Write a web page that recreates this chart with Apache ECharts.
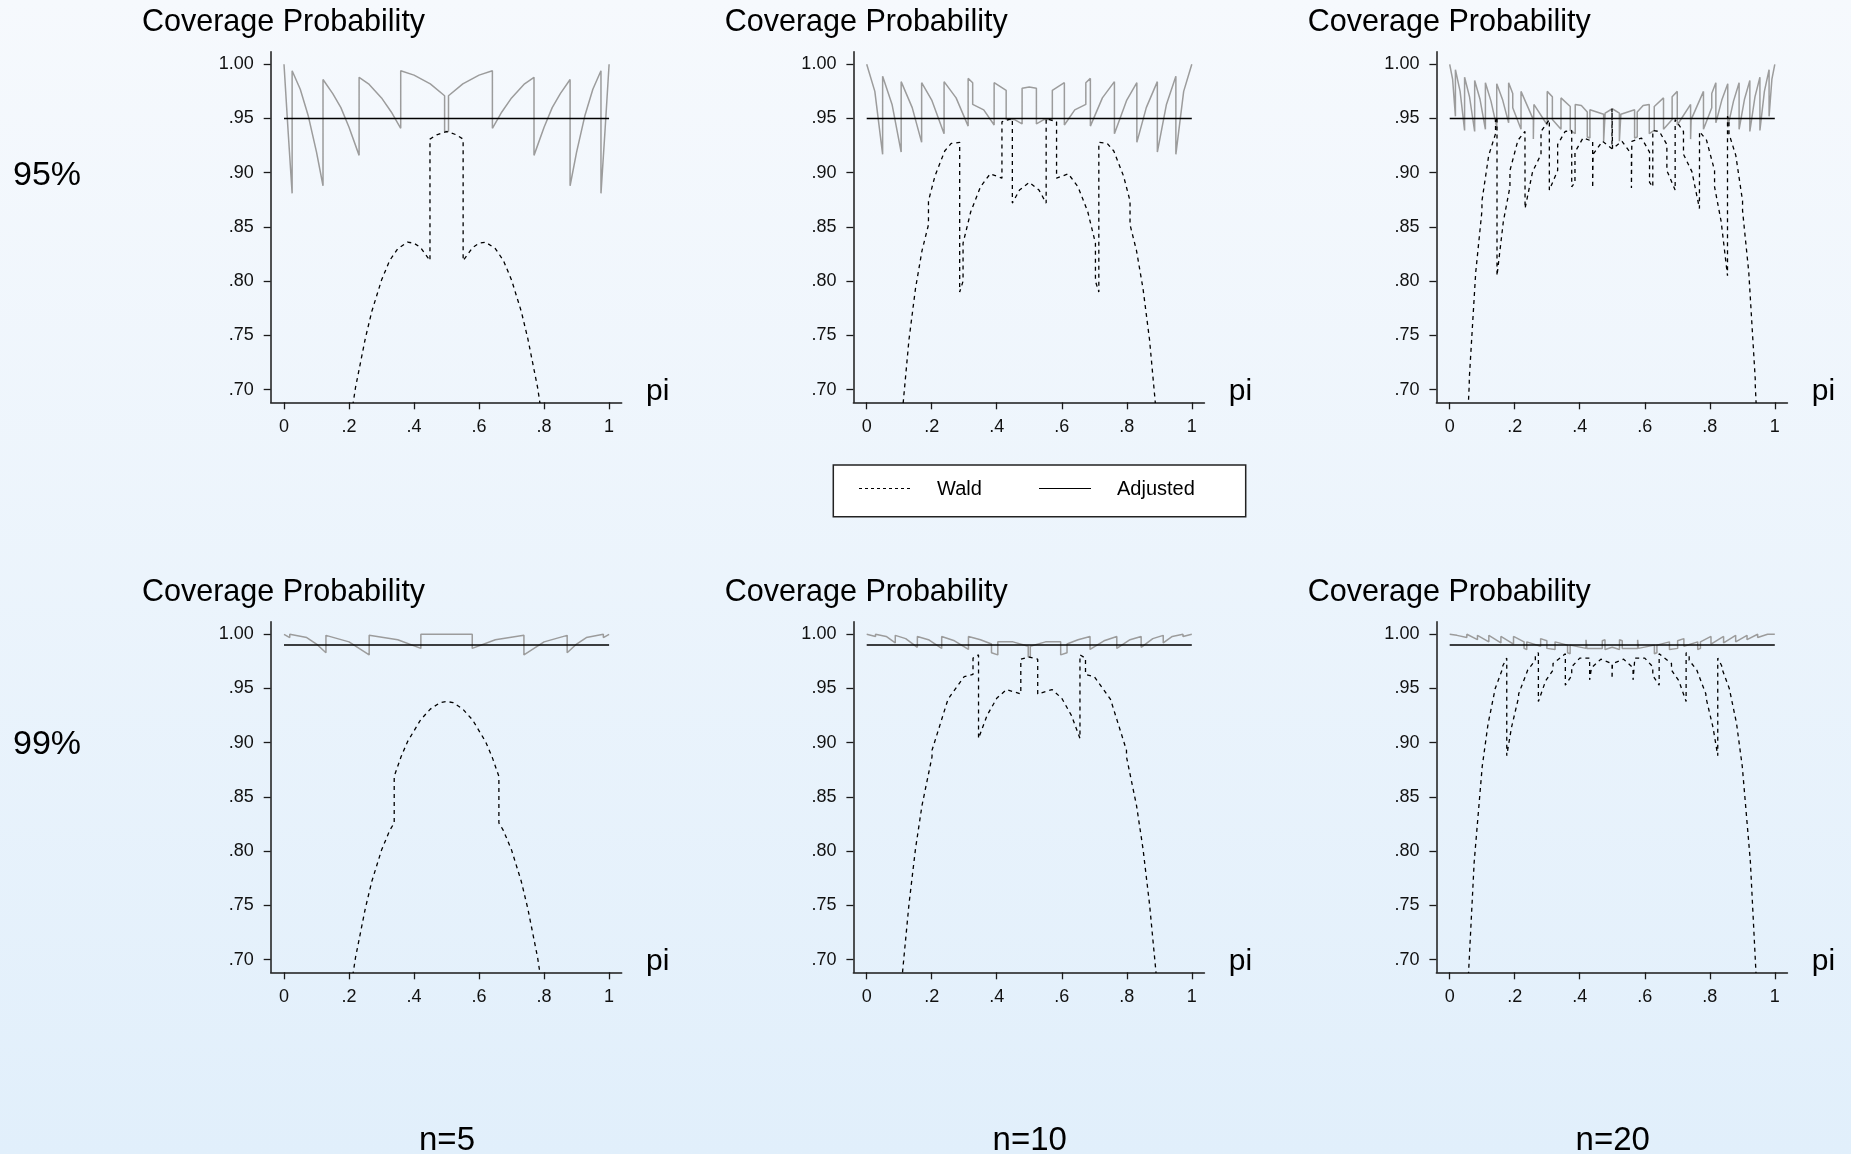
<!DOCTYPE html>
<html><head><meta charset="utf-8">
<script src="https://cdn.jsdelivr.net/npm/echarts@6/dist/echarts.min.js"></script>
<style>
html,body{margin:0;padding:0;width:1851px;height:1154px;overflow:hidden;background:linear-gradient(to bottom,#f6f9fd 0%,#e1effb 100%);}
#c{width:1851px;height:1154px;}
</style></head><body><div id="c"></div>
<script>
// ---------- data ----------
const piTicks = [0, 0.2, 0.4, 0.6, 0.8, 1];
const covTicks = [0.70, 0.75, 0.80, 0.85, 0.90, 0.95, 1.00];
const levelLabels = ['95%', '99%'];
const nominal = [0.95, 0.99];
const piRange = [0, 1];
const sampleLabels = ['n=5', 'n=10', 'n=20'];
const seriesNames = ['Wald', 'Adjusted'];

const adj95n5 = [[0,1.000],[0.0125,0.939],[0.025,0.881],[0.025,0.994],[0.05,0.977],[0.075,0.952],[0.10,0.919],[0.12,0.888],[0.12,0.986],[0.15,0.973],[0.175,0.960],[0.20,0.942],[0.231,0.916],[0.231,0.988],[0.26,0.982],[0.30,0.969],[0.33,0.956],[0.359,0.941],[0.359,0.994],[0.40,0.990],[0.45,0.982],[0.494,0.971],[0.494,0.938],[0.506,0.938],[0.506,0.971],[0.55,0.982],[0.60,0.990],[0.641,0.994],[0.641,0.941],[0.67,0.956],[0.70,0.969],[0.74,0.982],[0.769,0.988],[0.769,0.916],[0.80,0.942],[0.825,0.960],[0.85,0.973],[0.88,0.986],[0.88,0.888],[0.90,0.919],[0.925,0.952],[0.95,0.977],[0.975,0.994],[0.975,0.881],[0.9875,0.939],[1,1.000]];
const wald95n5 = [[0.171,0.605],[0.22,0.702],[0.25,0.747],[0.27,0.772],[0.30,0.801],[0.325,0.819],[0.35,0.830],[0.38,0.836],[0.40,0.835],[0.42,0.831],[0.449,0.819],[0.449,0.931],[0.47,0.935],[0.50,0.938],[0.53,0.935],[0.551,0.931],[0.551,0.819],[0.58,0.831],[0.60,0.835],[0.62,0.836],[0.65,0.830],[0.675,0.819],[0.70,0.801],[0.73,0.772],[0.75,0.747],[0.78,0.702],[0.829,0.605]];

const adj95n10 = [[0,1.000],[0.025,0.975],[0.049,0.917],[0.049,0.989],[0.078,0.963],[0.106,0.919],[0.106,0.984],[0.14,0.960],[0.169,0.928],[0.169,0.983],[0.20,0.967],[0.238,0.936],[0.238,0.984],[0.275,0.969],[0.312,0.943],[0.312,0.987],[0.326,0.983],[0.326,0.963],[0.36,0.958],[0.392,0.944],[0.392,0.983],[0.429,0.976],[0.429,0.949],[0.455,0.949],[0.478,0.945],[0.478,0.978],[0.50,0.979],[0.522,0.978],[0.522,0.945],[0.545,0.949],[0.571,0.949],[0.571,0.976],[0.608,0.983],[0.608,0.944],[0.64,0.958],[0.674,0.963],[0.674,0.983],[0.688,0.987],[0.688,0.943],[0.725,0.969],[0.762,0.984],[0.762,0.936],[0.80,0.967],[0.831,0.983],[0.831,0.928],[0.86,0.960],[0.894,0.984],[0.894,0.919],[0.922,0.963],[0.951,0.989],[0.951,0.917],[0.975,0.975],[1,1.000]];
const wald95n10 = [[0.0964,0.636],[0.13,0.746],[0.15,0.793],[0.17,0.828],[0.19,0.852],[0.19,0.874],[0.21,0.897],[0.24,0.920],[0.26,0.927],[0.286,0.928],[0.286,0.790],[0.2964,0.800],[0.2964,0.835],[0.32,0.864],[0.35,0.887],[0.38,0.899],[0.416,0.895],[0.416,0.947],[0.448,0.950],[0.448,0.872],[0.47,0.884],[0.50,0.891],[0.53,0.884],[0.552,0.872],[0.552,0.950],[0.584,0.947],[0.584,0.895],[0.62,0.899],[0.65,0.887],[0.68,0.864],[0.7036,0.835],[0.7036,0.800],[0.714,0.790],[0.714,0.928],[0.74,0.927],[0.76,0.920],[0.79,0.897],[0.81,0.874],[0.81,0.852],[0.83,0.828],[0.85,0.793],[0.87,0.746],[0.9036,0.636]];

const adj95n20 = [[0,1.000],[0.009,0.986],[0.0176,0.952],[0.0176,0.995],[0.032,0.975],[0.0458,0.939],[0.0458,0.988],[0.061,0.970],[0.0768,0.938],[0.0768,0.985],[0.093,0.968],[0.1098,0.940],[0.1098,0.983],[0.127,0.966],[0.1447,0.942],[0.1447,0.982],[0.163,0.967],[0.1813,0.946],[0.1813,0.983],[0.1939,0.973],[0.1939,0.960],[0.2194,0.940],[0.2194,0.975],[0.2573,0.949],[0.2573,0.931],[0.2590,0.931],[0.2590,0.963],[0.3000,0.944],[0.3000,0.975],[0.3158,0.970],[0.3158,0.949],[0.3423,0.940],[0.3423,0.969],[0.3708,0.961],[0.3708,0.939],[0.3861,0.936],[0.3861,0.963],[0.405,0.962],[0.4232,0.956],[0.4232,0.933],[0.4313,0.932],[0.4313,0.958],[0.4735,0.954],[0.4735,0.929],[0.4781,0.929],[0.4781,0.955],[0.5,0.959],[0.5219,0.955],[0.5219,0.929],[0.5265,0.929],[0.5265,0.954],[0.5687,0.958],[0.5687,0.932],[0.5768,0.933],[0.5768,0.956],[0.595,0.962],[0.6139,0.963],[0.6139,0.936],[0.6292,0.939],[0.6292,0.961],[0.6577,0.969],[0.6577,0.940],[0.6842,0.949],[0.6842,0.970],[0.7000,0.975],[0.7000,0.944],[0.7410,0.963],[0.7410,0.931],[0.7427,0.931],[0.7427,0.949],[0.7806,0.975],[0.7806,0.940],[0.8061,0.960],[0.8061,0.973],[0.8187,0.983],[0.8187,0.946],[0.837,0.967],[0.8553,0.982],[0.8553,0.942],[0.873,0.966],[0.8902,0.983],[0.8902,0.940],[0.907,0.968],[0.9232,0.985],[0.9232,0.938],[0.939,0.970],[0.9542,0.988],[0.9542,0.939],[0.968,0.975],[0.9824,0.995],[0.9824,0.952],[0.991,0.986],[1,1.000]];
const wald95n20 = [[0.05,0.639],[0.0602,0.705],[0.0602,0.710],[0.08,0.808],[0.0992,0.865],[0.0992,0.874],[0.12,0.916],[0.141,0.936],[0.141,0.948],[0.1455,0.952],[0.1455,0.805],[0.165,0.855],[0.1853,0.887],[0.1853,0.902],[0.21,0.930],[0.2315,0.938],[0.2318,0.867],[0.255,0.901],[0.2809,0.917],[0.2809,0.938],[0.3065,0.949],[0.3065,0.884],[0.332,0.902],[0.332,0.926],[0.355,0.938],[0.3753,0.939],[0.3753,0.887],[0.3853,0.891],[0.3853,0.919],[0.41,0.932],[0.4398,0.929],[0.4398,0.886],[0.441,0.886],[0.441,0.917],[0.47,0.929],[0.4992,0.922],[0.4992,0.959],[0.5,0.959],[0.5008,0.959],[0.5008,0.922],[0.53,0.929],[0.559,0.917],[0.559,0.886],[0.5602,0.886],[0.5602,0.929],[0.59,0.932],[0.6147,0.919],[0.6147,0.891],[0.6247,0.887],[0.6247,0.939],[0.645,0.938],[0.668,0.926],[0.668,0.902],[0.6935,0.884],[0.6935,0.949],[0.7191,0.938],[0.7191,0.917],[0.745,0.901],[0.7682,0.867],[0.7685,0.938],[0.79,0.930],[0.8147,0.902],[0.8147,0.887],[0.835,0.855],[0.8545,0.805],[0.8545,0.952],[0.859,0.948],[0.859,0.936],[0.88,0.916],[0.9008,0.874],[0.9008,0.865],[0.92,0.808],[0.9398,0.710],[0.9398,0.705],[0.95,0.639]];

const adj99n5 = [[0,1.000],[0.0177,0.997],[0.0177,1.000],[0.07,0.997],[0.10,0.991],[0.129,0.983],[0.129,0.999],[0.20,0.993],[0.262,0.981],[0.262,0.999],[0.35,0.995],[0.421,0.987],[0.421,1.000],[0.579,1.000],[0.579,0.987],[0.65,0.995],[0.738,0.999],[0.738,0.981],[0.80,0.993],[0.871,0.999],[0.871,0.983],[0.90,0.991],[0.93,0.997],[0.9823,1.000],[0.9823,0.997],[1,1.000]];
const wald99n5 = [[0.171,0.605],[0.22,0.702],[0.25,0.747],[0.27,0.772],[0.30,0.801],[0.325,0.819],[0.339,0.826],[0.339,0.869],[0.36,0.887],[0.38,0.901],[0.42,0.921],[0.45,0.931],[0.48,0.937],[0.50,0.938],[0.52,0.937],[0.55,0.931],[0.58,0.921],[0.62,0.901],[0.64,0.887],[0.661,0.869],[0.661,0.826],[0.675,0.819],[0.70,0.801],[0.73,0.772],[0.75,0.747],[0.78,0.702],[0.829,0.605]];

const adj99n10 = [[0,1.000],[0.0272,0.998],[0.0272,1.000],[0.06,0.998],[0.0879,0.992],[0.0879,0.999],[0.12,0.996],[0.1558,0.988],[0.1558,0.998],[0.19,0.995],[0.2307,0.987],[0.2307,0.998],[0.27,0.994],[0.313,0.986],[0.313,0.998],[0.35,0.995],[0.3838,0.991],[0.3838,0.983],[0.4033,0.981],[0.4033,0.993],[0.45,0.993],[0.4968,0.989],[0.4968,0.979],[0.5,0.979],[0.5032,0.979],[0.5032,0.989],[0.55,0.993],[0.5967,0.993],[0.5967,0.981],[0.6162,0.983],[0.6162,0.991],[0.65,0.995],[0.687,0.998],[0.687,0.986],[0.73,0.994],[0.7693,0.998],[0.7693,0.987],[0.81,0.995],[0.8442,0.998],[0.8442,0.988],[0.88,0.996],[0.9121,0.999],[0.9121,0.992],[0.94,0.998],[0.9728,1.000],[0.9728,0.998],[1,1.000]];
const wald99n10 = [[0.0927,0.622],[0.111,0.691],[0.13,0.751],[0.15,0.802],[0.17,0.842],[0.2009,0.887],[0.2009,0.893],[0.25,0.940],[0.30,0.961],[0.327,0.963],[0.327,0.978],[0.344,0.981],[0.344,0.904],[0.37,0.925],[0.40,0.941],[0.43,0.949],[0.474,0.945],[0.474,0.977],[0.50,0.979],[0.526,0.977],[0.526,0.945],[0.57,0.949],[0.60,0.941],[0.63,0.925],[0.656,0.904],[0.656,0.981],[0.673,0.978],[0.673,0.963],[0.70,0.961],[0.75,0.940],[0.7991,0.893],[0.7991,0.887],[0.83,0.842],[0.85,0.802],[0.87,0.751],[0.889,0.691],[0.9073,0.622]];

const adj99n20 = [[0,1.000],[0.0223,0.999],[0.0223,1.000],[0.0527,0.997],[0.0527,1.000],[0.0854,0.995],[0.0854,0.999],[0.1204,0.993],[0.1204,0.999],[0.1575,0.992],[0.1575,0.998],[0.1963,0.991],[0.1963,0.998],[0.2287,0.993],[0.2287,0.987],[0.2371,0.986],[0.2371,0.993],[0.2797,0.989],[0.2797,0.996],[0.2989,0.994],[0.2989,0.987],[0.3241,0.986],[0.3241,0.993],[0.3626,0.990],[0.3626,0.983],[0.3704,0.982],[0.3704,0.990],[0.4193,0.987],[0.4193,0.995],[0.4219,0.995],[0.4219,0.987],[0.4693,0.987],[0.4693,0.994],[0.4777,0.995],[0.4777,0.986],[0.5,0.988],[0.5223,0.986],[0.5223,0.995],[0.5307,0.994],[0.5307,0.987],[0.5781,0.987],[0.5781,0.995],[0.5807,0.995],[0.5807,0.987],[0.6296,0.990],[0.6296,0.982],[0.6374,0.983],[0.6374,0.990],[0.6759,0.993],[0.6759,0.986],[0.7011,0.987],[0.7011,0.994],[0.7203,0.996],[0.7203,0.989],[0.7629,0.993],[0.7629,0.986],[0.7713,0.987],[0.7713,0.993],[0.8037,0.998],[0.8037,0.991],[0.8425,0.998],[0.8425,0.992],[0.8796,0.999],[0.8796,0.993],[0.9146,0.999],[0.9146,0.995],[0.9473,1.000],[0.9473,0.997],[0.9777,1.000],[0.9777,0.999],[1,1.000]];
const wald99n20 = [[0.05,0.641],[0.0753,0.790],[0.0753,0.791],[0.10,0.878],[0.1178,0.917],[0.1178,0.918],[0.14,0.950],[0.1634,0.969],[0.1634,0.971],[0.1755,0.978],[0.1755,0.888],[0.19,0.914],[0.212,0.942],[0.212,0.945],[0.24,0.967],[0.2634,0.976],[0.2634,0.980],[0.2728,0.983],[0.2728,0.938],[0.295,0.957],[0.3178,0.967],[0.3178,0.973],[0.3557,0.982],[0.3557,0.953],[0.3753,0.962],[0.3753,0.970],[0.40,0.978],[0.4304,0.978],[0.4304,0.958],[0.436,0.958],[0.436,0.969],[0.465,0.977],[0.4994,0.973],[0.4994,0.959],[0.5006,0.959],[0.5006,0.973],[0.535,0.977],[0.564,0.969],[0.564,0.958],[0.5696,0.958],[0.5696,0.978],[0.60,0.978],[0.6247,0.970],[0.6247,0.962],[0.6443,0.953],[0.6443,0.982],[0.6822,0.973],[0.6822,0.967],[0.705,0.957],[0.7272,0.938],[0.7272,0.983],[0.7366,0.980],[0.7366,0.976],[0.76,0.967],[0.788,0.945],[0.788,0.942],[0.81,0.914],[0.8245,0.888],[0.8245,0.978],[0.8366,0.971],[0.8366,0.969],[0.86,0.950],[0.8822,0.918],[0.8822,0.917],[0.90,0.878],[0.9247,0.791],[0.9247,0.790],[0.95,0.641]];

const adjustedByPanel = [[adj95n5, adj95n10, adj95n20], [adj99n5, adj99n10, adj99n20]];
const waldByPanel = [[wald95n5, wald95n10, wald95n20], [wald99n5, wald99n10, wald99n20]];

// ---------- layout ----------
const FONT = '"Liberation Sans", Arial, Helvetica, sans-serif';
const X0 = [284, 866.7, 1449.7];     // pixel of pi = 0 per column
const PX_PER_PI = 325.1;
const ROW_TOP = [51.7, 621.7];       // top of y axis line per row
const GRID_H = 350.6;
const X_MIN = -0.0409, X_MAX = 1.0388;
const Y_MIN = 0.6883, Y_MAX = 1.0116;
const GRID_W = PX_PER_PI * (X_MAX - X_MIN);
const AXIS_COLOR = '#1a1a1a';

const grids = [], xAxes = [], yAxes = [], series = [], graphics = [];
function fmtY(v){ const s = v.toFixed(2); return s.charAt(0) === '0' ? s.slice(1) : s; }
function fmtX(v){ if (Math.abs(v) < 1e-9) return '0'; if (Math.abs(v-1) < 1e-9) return '1'; return v.toFixed(1).replace(/^0/, ''); }
function txt(x, y, text, size, align){
  return { type: 'text', x: x, y: y, z: 10,
    style: { text: text, fontSize: size, fontFamily: FONT, fill: '#000', align: align, verticalAlign: 'middle', textAlign: align, textVerticalAlign: 'middle' } };
}

let idx = 0;
for (let r = 0; r < 2; r++) {
  for (let c = 0; c < 3; c++) {
    grids.push({ left: X0[c] + X_MIN * PX_PER_PI, top: ROW_TOP[r], width: GRID_W, height: GRID_H, containLabel: false, show: false });
    xAxes.push({
      gridIndex: idx, type: 'value', min: X_MIN, max: X_MAX,
      axisLine: { show: true, onZero: false, lineStyle: { color: AXIS_COLOR, width: 1.5 } },
      axisTick: { show: true, customValues: piTicks, length: 7, lineStyle: { color: AXIS_COLOR, width: 1.3 } },
      axisLabel: { show: true, customValues: piTicks, formatter: fmtX, fontSize: 18, fontFamily: FONT, color: '#111', margin: 16 },
      splitLine: { show: false }
    });
    yAxes.push({
      gridIndex: idx, type: 'value', min: Y_MIN, max: Y_MAX,
      axisLine: { show: true, onZero: false, lineStyle: { color: AXIS_COLOR, width: 1.5 } },
      axisTick: { show: true, customValues: covTicks, length: 7, lineStyle: { color: AXIS_COLOR, width: 1.3 } },
      axisLabel: { show: true, customValues: covTicks, formatter: fmtY, fontSize: 18, fontFamily: FONT, color: '#111', margin: 17 },
      splitLine: { show: false }
    });
    series.push({
      name: seriesNames[1], type: 'line', xAxisIndex: idx, yAxisIndex: idx, data: adjustedByPanel[r][c],
      symbol: 'none', showSymbol: false, clip: true, silent: true, z: 2,
      lineStyle: { color: '#9c9c9c', width: 1.5 }
    });
    series.push({
      name: 'nominal', type: 'line', xAxisIndex: idx, yAxisIndex: idx,
      data: [[piRange[0], nominal[r]], [piRange[1], nominal[r]]],
      symbol: 'none', showSymbol: false, clip: true, silent: true, z: 3,
      lineStyle: { color: '#000', width: 1.5 }
    });
    series.push({
      name: seriesNames[0], type: 'line', xAxisIndex: idx, yAxisIndex: idx, data: waldByPanel[r][c],
      symbol: 'none', showSymbol: false, clip: true, silent: true, z: 4,
      lineStyle: { color: '#000', width: 1.3, type: [4, 4] }
    });
    graphics.push(txt(X0[c] - 142, 22.5 + 570 * r, 'Coverage Probability', 30.5, 'left'));
    graphics.push(txt(X0[c] + 362, 391.5 + 570 * r, 'pi', 30, 'left'));
    idx++;
  }
}
for (let r = 0; r < 2; r++) graphics.push(txt(13, 176 + 569 * r, levelLabels[r], 34, 'left'));
for (let c = 0; c < 3; c++) graphics.push(txt(X0[c] + 163, 1141, sampleLabels[c], 33, 'center'));
// legend box
graphics.push({ type: 'rect', z: 10, shape: { x: 833.3, y: 465, width: 412.4, height: 51.7 }, style: { fill: '#ffffff', stroke: '#222', lineWidth: 1.5 } });
graphics.push({ type: 'line', z: 11, shape: { x1: 859, y1: 488.5, x2: 912, y2: 488.5 }, style: { stroke: '#000', lineWidth: 1.2, lineDash: [3, 3] } });
graphics.push(txt(937, 489, seriesNames[0], 20, 'left'));
graphics.push({ type: 'line', z: 11, shape: { x1: 1039, y1: 488.5, x2: 1091, y2: 488.5 }, style: { stroke: '#000', lineWidth: 1.2 } });
graphics.push(txt(1117, 489, seriesNames[1], 20, 'left'));

const chart = echarts.init(document.getElementById('c'), null, { renderer: 'canvas' });
chart.setOption({
  backgroundColor: 'transparent',
  animation: false,
  grid: grids,
  xAxis: xAxes,
  yAxis: yAxes,
  series: series,
  graphic: { elements: graphics }
});
</script>
</body></html>
